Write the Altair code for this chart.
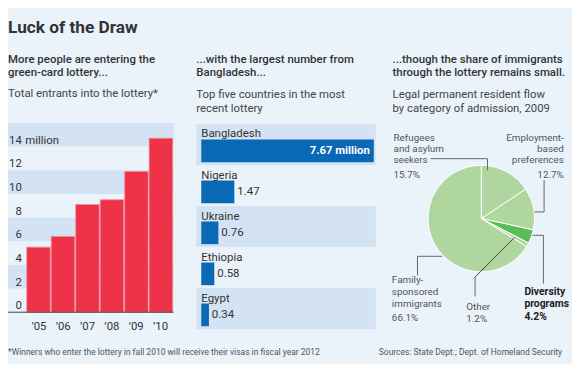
import altair as alt
import pandas as pd

# ---------------- data ----------------
years = ["’05", "’06", "’07", "’08", "’09", "’10"]
entrants = [5.5, 6.4, 9.1, 9.5, 11.9, 14.7]          # millions
y_ticks = [0, 2, 4, 6, 8, 10, 12, 14]
band_lo = [2, 6, 10, 14]
band_hi = [4, 8, 12, 16]

countries = ["Bangladesh", "Nigeria", "Ukraine", "Ethiopia", "Egypt"]
country_values = [7.67, 1.47, 0.76, 0.58, 0.34]
country_labels = ["7.67 million", "1.47", "0.76", "0.58", "0.34"]
country_shaded = [True, False, True, False, True]

categories = ["Refugees and asylum seekers", "Employment-based preferences",
              "Diversity programs", "Other", "Family-sponsored immigrants"]
shares = [15.7, 12.7, 4.2, 1.2, 66.1]
cat_order = [0, 1, 2, 3, 4]

# ---------------- styles ----------------
FONT = "Roboto"
BG = "#EAF2FA"
BAND = "#D3E3F4"
RED = "#EE3248"
BLUE = "#0A69B5"
LG = "#AED69E"
DG = "#5ABD55"
TXT = "#333333"
GRAY = "#555555"

one = pd.DataFrame({"k": [0]})


def text(lines, x, y, size, weight="normal", color=TXT, align="left", lh=None):
    return alt.Chart(one).mark_text(
        align=align, baseline="alphabetic", fontSize=size, fontWeight=weight,
        color=color, font=FONT, lineHeight=lh if lh else size * 1.15,
    ).encode(x=alt.value(x), y=alt.value(y), text=alt.value(lines))


def seg(x1, y1, x2, y2, color="#666666"):
    return alt.Chart(one).mark_rule(color=color, strokeWidth=1).encode(
        x=alt.value(x1), y=alt.value(y1), x2=alt.value(x2), y2=alt.value(y2))


layers = []

# ---------------- titles ----------------
layers.append(text("Luck of the Draw", 0, 23, 17.5, "bold", "#333333"))
layers.append(text(["More people are entering the", "green-card lottery..."], 0, 53, 11.6, 500, TXT, lh=13))
layers.append(text("Total entrants into the lottery*", 0, 88, 11.5, "normal", "#444444"))
layers.append(text(["...with the largest number from", "Bangladesh..."], 191, 53, 11.6, 500, TXT, lh=13))
layers.append(text(["Top five countries in the most", "recent lottery"], 191, 89, 11.5, "normal", "#444444", lh=13.5))
layers.append(text(["...though the share of immigrants", "through the lottery remains small."], 390, 53, 11.6, 500, TXT, lh=13))
layers.append(text(["Legal permanent resident flow", "by category of admission, 2009"], 390, 89, 11.5, "normal", "#444444", lh=13.5))

# ---------------- panel 1: entrants ----------------
p1 = pd.DataFrame({"year": years, "entrants": entrants})
xs1 = alt.Scale(domain=years, range=[19, 167], paddingInner=0.04, paddingOuter=0)
ys1 = alt.Scale(domain=[0, 16], range=[306, 114], nice=False, zero=True)

layers.append(alt.Chart(pd.DataFrame({"lo": band_lo, "hi": band_hi})).mark_rect(color=BAND).encode(
    x=alt.value(0), x2=alt.value(168),
    y=alt.Y("lo:Q", scale=ys1, axis=None), y2="hi:Q"))
layers.append(alt.Chart(p1).mark_bar(color=RED, stroke="#F48A97", strokeWidth=0.7).encode(
    x=alt.X("year:N", scale=xs1, axis=None, sort=years),
    y=alt.Y("entrants:Q", scale=ys1, axis=None)))
layers.append(seg(0, 306, 168, 306, "#444444"))
layers.append(alt.Chart(pd.DataFrame({"v": y_ticks})).mark_text(
    align="right", baseline="alphabetic", dy=-3, fontSize=11.5, color=TXT, font=FONT).encode(
    x=alt.value(14), y=alt.Y("v:Q", scale=ys1, axis=None), text=alt.Text("v:Q", format="d")))
layers.append(alt.Chart(pd.DataFrame({"v": [14], "t": ["million"]})).mark_text(
    align="left", baseline="alphabetic", dy=-3, fontSize=11.5, color=TXT, font=FONT).encode(
    x=alt.value(17.5), y=alt.Y("v:Q", scale=ys1, axis=None), text="t:N"))
layers.append(alt.Chart(p1).mark_text(baseline="middle", fontSize=11.5, color=TXT, font=FONT).encode(
    x=alt.X("year:N", scale=xs1, axis=None, sort=years), y=alt.value(321), text="year:N"))

# ---------------- panel 2: countries ----------------
p2 = pd.DataFrame({"country": countries, "value": country_values,
                   "label": country_labels, "shaded": country_shaded})
ys2 = alt.Scale(domain=countries, range=[115, 323], paddingInner=0, paddingOuter=0)
xs2 = alt.Scale(domain=[0, 7.67], range=[196, 371], nice=False, zero=True)
Y2 = alt.Y("country:N", scale=ys2, axis=None, sort=countries)

layers.append(alt.Chart(p2).transform_filter("datum.shaded").mark_rect(color=BAND).encode(
    y=Y2, x=alt.value(191), x2=alt.value(373)))
layers.append(alt.Chart(p2).mark_bar(color=BLUE, size=23, yOffset=6.5).encode(
    y=Y2, x=alt.X("value:Q", scale=xs2, axis=None)))
layers.append(alt.Chart(p2).mark_text(align="left", baseline="middle", dy=-10, fontSize=11.6,
                                      color=TXT, font=FONT).encode(
    y=Y2, x=alt.value(196), text="country:N"))
layers.append(alt.Chart(p2).transform_filter("datum.value > 5").mark_text(
    align="right", baseline="middle", dx=-4, dy=6.5, fontSize=11.5, fontWeight="bold",
    color="white", font=FONT).encode(
    y=Y2, x=alt.X("value:Q", scale=xs2, axis=None), text="label:N"))
layers.append(alt.Chart(p2).transform_filter("datum.value <= 5").mark_text(
    align="left", baseline="middle", dx=3, dy=6.5, fontSize=11.6, color=TXT, font=FONT).encode(
    y=Y2, x=alt.X("value:Q", scale=xs2, axis=None), text="label:N"))

# ---------------- panel 3: pie ----------------
p3 = pd.DataFrame({"cat": categories, "share": shares, "order": cat_order})
layers.append(alt.Chart(p3).mark_arc(radius=54, stroke="white", strokeWidth=1).encode(
    theta=alt.Theta("share:Q", stack=True),
    order=alt.Order("order:Q"),
    color=alt.Color("cat:N", scale=alt.Scale(domain=categories, range=[LG, LG, DG, LG, LG]), legend=None),
    x=alt.value(480), y=alt.value(211)))

# leader lines
layers += [seg(428.7, 150.3, 486.3, 150.3), seg(486.3, 150.3, 486.3, 162)]
layers += [seg(543.7, 172, 543.7, 204.3), seg(543.7, 204.3, 533.7, 204.3)]
layers += [seg(532, 228, 543, 228), seg(543, 228, 543, 277)]
layers += [seg(513.7, 230.3, 473.7, 270.3, "#444444"), seg(473.7, 270.3, 473.7, 290)]
layers += [seg(440.3, 249.3, 415.3, 249.3), seg(415.3, 249.3, 415.3, 268.7)]

# pie labels
layers.append(text(["Refugees", "and asylum", "seekers"], 391, 132.5, 10, "normal", GRAY, lh=11))
layers.append(text("15.7%", 391, 169.5, 10, "normal", GRAY))
layers.append(text(["Employment-", "based", "preferences"], 563.7, 132.5, 10, "normal", GRAY, "right", lh=11))
layers.append(text("12.7%", 563.7, 169.5, 10, "normal", GRAY, "right"))
layers.append(text(["Family-", "sponsored", "immigrants"], 389.3, 276.5, 10, "normal", GRAY, lh=12))
layers.append(text("66.1%", 389.3, 315, 10, "normal", GRAY))
layers.append(text("Other", 464.7, 304, 10, "normal", GRAY))
layers.append(text("1.2%", 464.7, 315.5, 10, "normal", GRAY))
layers.append(text(["Diversity", "programs"], 523.7, 288.3, 10.5, "bold", "#222222", lh=12))
layers.append(text("4.2%", 523.7, 313.5, 10.5, "bold", "#222222"))

# ---------------- footer ----------------
layers.append(text("*Winners who enter the lottery in fall 2010 will receive their visas in fiscal year 2012",
                   0, 349, 8.6, "normal", GRAY))
layers.append(text("Sources: State Dept.; Dept. of Homeland Security", 562, 349, 8.6, "normal", GRAY, "right"))

chart = alt.layer(*layers).resolve_scale(
    x="independent", y="independent", theta="independent", color="independent"
).properties(
    width=572, height=356, background=BG, padding=0,
    autosize=alt.AutoSizeParams(type="none"),
).configure_view(stroke=None)

chart.save("out.html", embed_options={"renderer": "svg", "actions": False})
